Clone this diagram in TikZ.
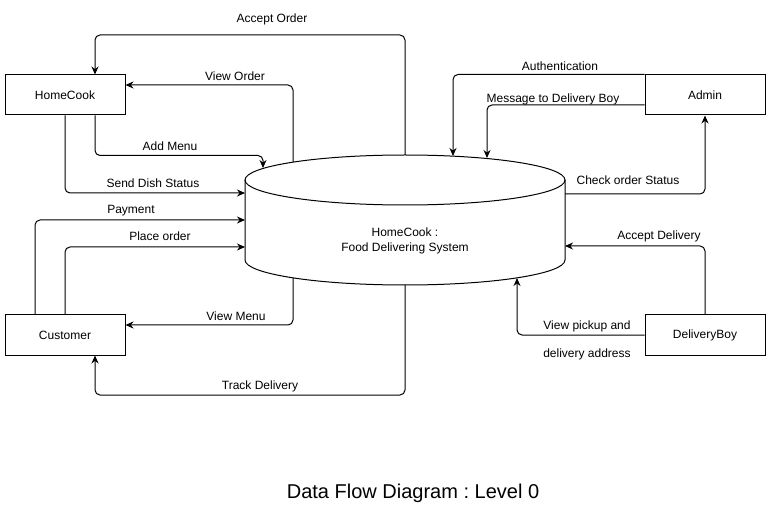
\documentclass[tikz,border=0pt]{standalone}
\usepackage{fontspec}
\setmainfont{Liberation Sans}
\usetikzlibrary{positioning,arrows.meta}
\frenchspacing

\begin{document}
\begin{tikzpicture}[
x=1pt, y=-1pt,
box/.style={rectangle, draw, line width=1pt, minimum width=120pt, minimum height=40pt, font=\fontsize{12}{14}\selectfont},
flow/.style={-{Stealth[length=8pt,width=7pt]}, line width=1pt, rounded corners=5pt},
lbl/.style={font=\fontsize{12}{14}\selectfont, inner sep=0pt}
]
\useasboundingbox (0,0) rectangle (771,521);

\node[box] (homecook) at (65,95) {HomeCook};
\node[box] (customer) at (65,335) {Customer};
\node[box] (admin) at (705,95) {Admin};
\node[box] (deliveryboy) at (705,335) {DeliveryBoy};

% data store
\draw[line width=1pt] (405,180) ellipse [x radius=160, y radius=25];
\draw[line width=1pt] (245,180) -- (245,260)
  .. controls (245,273.8) and (316.6,285) .. (405,285)
  .. controls (493.4,285) and (565,273.8) .. (565,260) -- (565,180);
\node[lbl, align=center, text depth=0pt] (system) at (405,240) {HomeCook :\\[1pt]Food Delivering System};

\coordinate (cyl-t1) at (263,168);
\coordinate (cyl-t2) at (293,162);
\coordinate (cyl-t3) at (405,155);
\coordinate (cyl-t4) at (453,156);
\coordinate (cyl-t5) at (487,158);
\coordinate (cyl-b1) at (293,278);
\coordinate (cyl-b2) at (405,285);
\coordinate (cyl-b3) at (517,278);
\coordinate (cyl-l1) at (245,193);
\coordinate (cyl-l2) at (245,220);
\coordinate (cyl-l3) at (245,247);
\coordinate (cyl-r1) at (565,194);
\coordinate (cyl-r2) at (565,246);

\draw[flow] (cyl-t3) -- ++(0,-120) -| ([xshift=30pt]homecook.north);
\draw[flow] (cyl-t2) |- ([yshift=10pt]homecook.east);
\draw[flow] ([xshift=30pt]homecook.south) -- ++(0,40) -| (cyl-t1);
\draw[flow] (homecook.south) |- (cyl-l1);
\draw[flow] ([xshift=-30pt]customer.north) |- (cyl-l2);
\draw[flow] (customer.north) |- (cyl-l3);
\draw[flow] (cyl-b1) |- ([yshift=10pt]customer.east);
\draw[flow] (cyl-b2) -- ++(0,110) -| ([xshift=30pt]customer.south);
\draw[flow] (admin.north west) -| (cyl-t4);
\draw[flow] ([yshift=-10pt]admin.west) -| (cyl-t5);
\draw[flow] (cyl-r1) -| (admin.south);
\draw[flow] (deliveryboy.north) |- (cyl-r2);
\draw[flow] (deliveryboy.west) -| (cyl-b3);

\node[lbl] (l-acceptorder) at (272,19) {Accept Order};
\node[lbl] (l-vieworder) at (235,76) {View Order};
\node[lbl] (l-addmenu) at (170,146) {Add Menu};
\node[lbl] (l-dishstatus) at (153,183) {Send Dish Status};
\node[lbl] (l-payment) at (131,211) {Payment};
\node[lbl] (l-placeorder) at (160,236) {Place order};
\node[lbl] (l-viewmenu) at (236,316) {View Menu};
\node[lbl] (l-track) at (260,386) {Track Delivery};
\node[lbl] (l-auth) at (560,66) {Authentication};
\node[lbl] (l-message) at (553,99) {Message to Delivery Boy};
\node[lbl] (l-checkstatus) at (628,180) {Check order Status};
\node[lbl] (l-acceptdelivery) at (659,236) {Accept Delivery};
\node[lbl] (l-pickup) at (587,326) {View pickup and};
\node[lbl] (l-address) at (587,354) {delivery address};

\node[font=\fontsize{20}{24}\selectfont, inner sep=0pt] (title) at (413,493) {Data Flow Diagram : Level 0};

\end{tikzpicture}
\end{document}
